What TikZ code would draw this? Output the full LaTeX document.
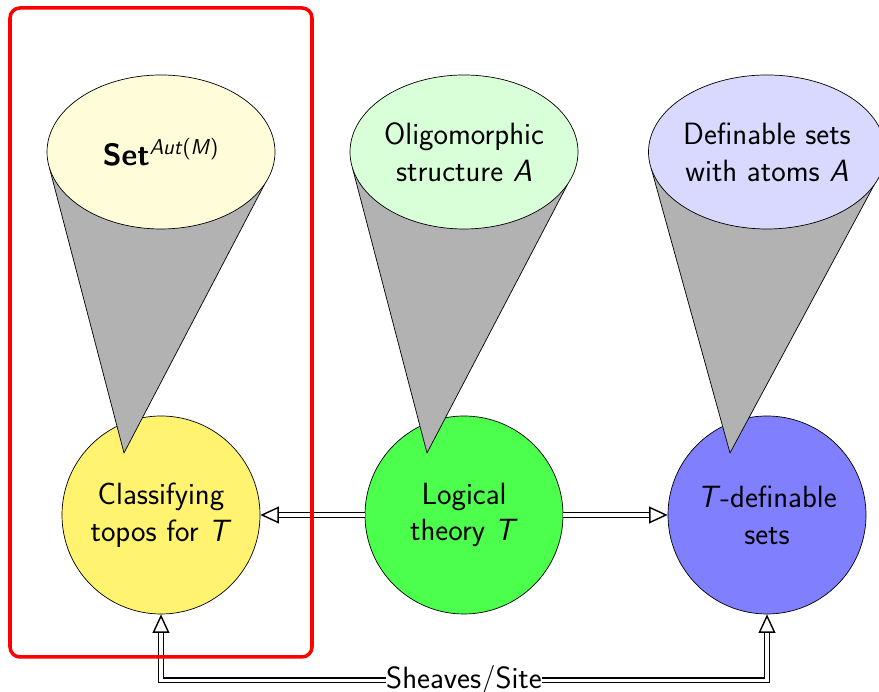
\documentclass[tikz,border=0pt]{standalone}
\usepackage{fontspec}
\usetikzlibrary{arrows.meta,calc,shapes.geometric}
\pgfdeclarelayer{front}
\pgfsetlayers{main,front}
\definecolor{toposyellow}{RGB}{255,243,112}

\begin{document}
\begin{tikzpicture}[
  font=\sffamily\fontsize{17.5}{21}\selectfont,
  world/.style={circle, draw, minimum size=3.96cm, inner sep=0pt, align=center},
  model/.style={ellipse, draw, minimum width=4.56cm, minimum height=3.08cm, inner sep=0pt, outer sep=0pt, align=center},
  cone/.style={draw, fill=gray!60, line join=round},
  bigtip/.tip={Triangle[open, fill=white, length=10.5pt, width=9.5pt, line width=0.8pt]},
  dbl/.style={double, double distance=1.8pt, line width=0.8pt, -bigtip}
]
\useasboundingbox (0,0) rectangle (17.58,13.84);

% the three universes
\node[world, fill=toposyellow] (topos) at (3.22,3.54) {Classifying\\topos for \textit{T}};
\node[world, fill=green!70] (theory) at (9.28,3.54) {Logical\\theory \textit{T}};
\node[world, fill=blue!50] (defsets) at (15.34,3.54) {\textit{T}-definable\\sets};

% models on top, kept on the front layer so the cones go underneath
\begin{pgfonlayer}{front}
\node[model, fill=yellow!15] (setaut) at (3.22,10.8) {\textbf{Set}\textsuperscript{\textit{Aut}(\textit{M})}};
\node[model, fill=green!15] (olig) at (9.28,10.8) {Oligomorphic\\structure \textit{A}};
\node[model, fill=blue!15] (defatoms) at (15.34,10.8) {Definable sets\\with atoms \textit{A}};
\end{pgfonlayer}

\foreach \m/\w in {setaut/topos, olig/theory, defatoms/defsets}
  \draw[cone] ($(\w.center)+(-0.74,1.24)$) -- (\m.188) -- (\m.343) -- cycle;

\draw[dbl] (theory) -- (topos);
\draw[dbl] (theory) -- (defsets);
\draw[dbl, bigtip-bigtip] (topos.south) -- ++(0,-1.32) -| node[pos=0.25, fill=white, inner sep=0pt] {Sheaves/Site} (defsets.south);

\draw[red, line width=2pt, rounded corners=0.2cm] (0.2,0.7) rectangle (6.24,13.68);

\end{tikzpicture}
\end{document}
